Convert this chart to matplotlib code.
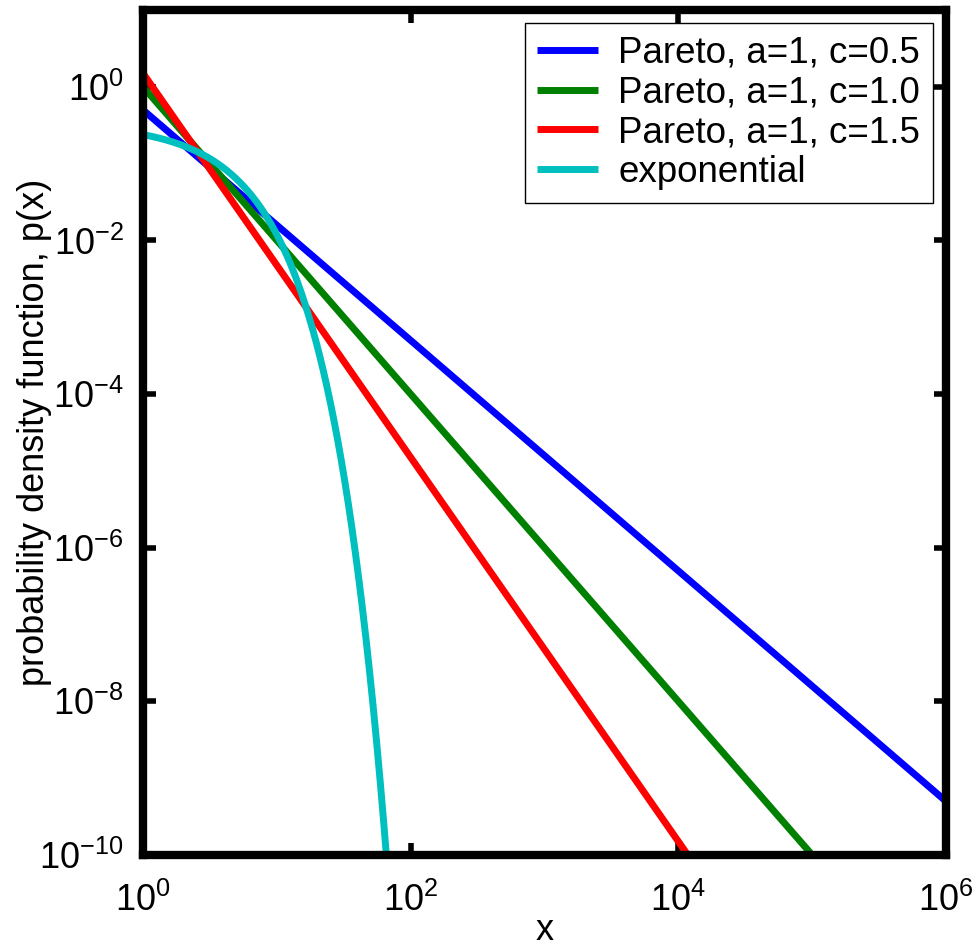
import numpy as np
import matplotlib
matplotlib.use("Agg")
import matplotlib.pyplot as plt

# Distribution parameters
pareto_scale_a = 1.0
pareto_shapes_c = [0.5, 1.0, 1.5]
pareto_colors = ["#0000ff", "#008000", "#ff0000"]
pareto_labels = ["Pareto, a=1, c=0.5", "Pareto, a=1, c=1.0", "Pareto, a=1, c=1.5"]
exp_mean = 3.0
exp_color = "#00bfbf"
exp_label = "exponential"

x_ticks = [1e0, 1e2, 1e4, 1e6]
y_ticks = [1e-10, 1e-8, 1e-6, 1e-4, 1e-2, 1e0]

plt.rcParams["font.family"] = ["Liberation Sans", "DejaVu Sans"]
plt.rcParams["mathtext.fontset"] = "custom"
plt.rcParams["mathtext.rm"] = "Liberation Sans"
plt.rcParams["mathtext.it"] = "Liberation Sans:italic"

fig = plt.figure(figsize=(9.73, 9.51), dpi=100)
ax = fig.add_axes([0.147, 0.1009, 0.9723 - 0.147, 0.9895 - 0.1009])

x = np.logspace(0, 6, 2000)
for c, col, lab in zip(pareto_shapes_c, pareto_colors, pareto_labels):
    pdf = c * pareto_scale_a ** c / x ** (c + 1)
    ax.plot(x, pdf, color=col, lw=5, label=lab, solid_capstyle="butt")

xe = np.logspace(0, np.log10(80), 2000)
pdf_exp = np.exp(-xe / exp_mean) / exp_mean
ax.plot(xe, pdf_exp, color=exp_color, lw=5, label=exp_label, solid_capstyle="butt")

ax.set_xscale("log")
ax.set_yscale("log")
ax.set_xlim(1e0, 1e6)
ax.set_ylim(1e-10, 1e1)
ax.set_xticks(x_ticks)
ax.set_yticks(y_ticks)
ax.minorticks_off()
ax.set_xticklabels([r"$10^{%d}$" % round(np.log10(t)) for t in x_ticks])
ax.set_yticklabels([r"$10^{%d}$" % round(np.log10(t)) for t in y_ticks])
ax.tick_params(which="both", direction="in", length=9, width=4, labelsize=26,
               top=True, right=True, color="black")
ax.tick_params(axis="x", pad=20)
ax.tick_params(axis="y", pad=14)

for sp in ax.spines.values():
    sp.set_linewidth(6)
    sp.set_color("black")

ax.set_xlabel("x", fontsize=26, labelpad=-4)
ax.set_ylabel("probability density function, p(x)", fontsize=26)
ax.yaxis.set_label_coords(-0.1133, 0.5)

leg = ax.legend(loc="upper right", fontsize=26.5, frameon=True, fancybox=False,
                edgecolor="black", framealpha=1, handlelength=1.65,
                handletextpad=0.55, labelspacing=0.13, borderaxespad=0.35,
                borderpad=0.35)
leg.get_frame().set_linewidth(1.0)

fig.savefig("out.png", dpi=100)
